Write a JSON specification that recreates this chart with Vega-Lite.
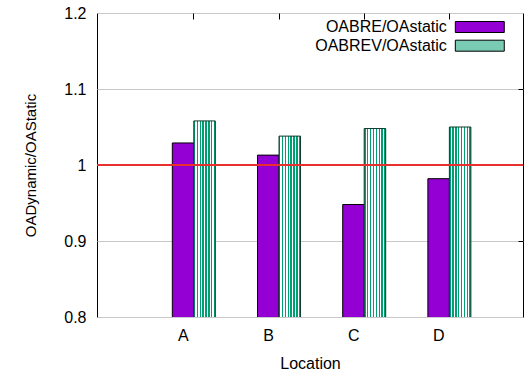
{
  "$schema": "https://vega.github.io/schema/vega-lite/v6.json",
  "width": 426,
  "height": 304,
  "autosize": {"type": "none"},
  "padding": {"left": 97, "top": 13, "right": 3, "bottom": 58},
  "config": {
    "font": "Liberation Sans",
    "view": {"stroke": "black", "strokeWidth": 1},
    "axis": {
      "labelFont": "Liberation Sans",
      "titleFont": "Liberation Sans",
      "labelFontSize": 16,
      "titleFontSize": 16,
      "labelColor": "black",
      "titleColor": "black",
      "titleFontWeight": "normal",
      "domain": false
    }
  },
  "data": {
    "values": [
      {"loc": "A", "series": "BRE", "value": 1.029},
      {"loc": "A", "series": "BREV", "value": 1.058},
      {"loc": "B", "series": "BRE", "value": 1.013},
      {"loc": "B", "series": "BREV", "value": 1.038},
      {"loc": "C", "series": "BRE", "value": 0.948},
      {"loc": "C", "series": "BREV", "value": 1.048},
      {"loc": "D", "series": "BRE", "value": 0.982},
      {"loc": "D", "series": "BREV", "value": 1.05}
    ]
  },
  "layer": [
    {
      "transform": [{"filter": "datum.series == 'BRE'"}],
      "mark": {"type": "bar", "stroke": "black", "strokeWidth": 1, "clip": true},
      "encoding": {
        "x": {
          "field": "loc", "type": "nominal",
          "scale": {"paddingInner": 0.4953, "paddingOuter": 0.748, "align": 0.591},
          "axis": {"orient": "bottom", "title": "Location", "labelAngle": 0, "labelOffset": -10.5, "ticks": false, "labelPadding": 10, "titlePadding": 12}
        },
        "xOffset": {"field": "series", "type": "nominal", "scale": {"domain": ["BRE", "BREV"], "paddingInner": 0, "paddingOuter": 0}},
        "y": {
          "field": "value", "type": "quantitative",
          "scale": {"domain": [0.8, 1.2], "zero": false, "nice": false},
          "axis": {"values": [0.8, 0.9, 1.0, 1.1, 1.2], "title": "OADynamic/OAStatic", "titleFontSize": 15, "grid": true, "gridColor": "#c8c8c8", "ticks": false, "labelPadding": 11, "labelExpr": "datum.value == 1 ? '1' : format(datum.value, '.1f')", "titlePadding": 25}
        },
        "color": {
          "field": "series", "type": "nominal",
          "scale": {"domain": ["BRE", "BREV"], "range": ["#9400d3", "#7acbb4"]},
          "legend": {
            "orient": "none", "legendX": 374.8, "legendY": 6, "padding": 0,
            "title": null,
            "symbolType": "M-4.45,-1H4.45V1H-4.45Z",
            "symbolSize": 121,
            "symbolStrokeColor": "black",
            "symbolStrokeWidth": 1,
            "symbolOpacity": 1,
            "labelFontSize": 16,
            "labelColor": "black",
            "labelAlign": "right",
            "labelOffset": -41,
            "rowPadding": 2.7,
            "labelExpr": "datum.value == 'BRE' ? 'OABRE/OAstatic' : 'OABREV/OAstatic'"
          }
        }
      }
    },
    {
      "transform": [{"filter": "datum.series == 'BREV'"}],
      "mark": {
        "type": "bar", "stroke": "#0b3d2c", "strokeWidth": 1, "clip": true,
        "fill": {
          "gradient": "linear", "x1": 0, "x2": 1, "y1": 0, "y2": 0,
          "stops": [
            {"offset": 0, "color": "#009e73"}, {"offset": 0.0667, "color": "#009e73"},
            {"offset": 0.0667, "color": "#ffffff"}, {"offset": 0.1333, "color": "#ffffff"},
            {"offset": 0.1333, "color": "#009e73"}, {"offset": 0.2, "color": "#009e73"},
            {"offset": 0.2, "color": "#ffffff"}, {"offset": 0.2667, "color": "#ffffff"},
            {"offset": 0.2667, "color": "#009e73"}, {"offset": 0.3333, "color": "#009e73"},
            {"offset": 0.3333, "color": "#ffffff"}, {"offset": 0.4, "color": "#ffffff"},
            {"offset": 0.4, "color": "#009e73"}, {"offset": 0.4667, "color": "#009e73"},
            {"offset": 0.4667, "color": "#ffffff"}, {"offset": 0.5333, "color": "#ffffff"},
            {"offset": 0.5333, "color": "#009e73"}, {"offset": 0.6, "color": "#009e73"},
            {"offset": 0.6, "color": "#ffffff"}, {"offset": 0.6667, "color": "#ffffff"},
            {"offset": 0.6667, "color": "#009e73"}, {"offset": 0.7333, "color": "#009e73"},
            {"offset": 0.7333, "color": "#ffffff"}, {"offset": 0.8, "color": "#ffffff"},
            {"offset": 0.8, "color": "#009e73"}, {"offset": 0.8667, "color": "#009e73"},
            {"offset": 0.8667, "color": "#ffffff"}, {"offset": 0.9333, "color": "#ffffff"},
            {"offset": 0.9333, "color": "#009e73"}, {"offset": 1, "color": "#009e73"}
          ]
        }
      },
      "encoding": {
        "x": {
          "field": "loc", "type": "nominal",
          "axis": {"orient": "top", "title": null, "labels": false, "ticks": true, "tickSize": -6, "tickColor": "black", "tickWidth": 1, "tickOpacity": 1, "tickBand": "center", "bandPosition": 0.377, "grid": false}
        },
        "xOffset": {"field": "series", "type": "nominal"},
        "y": {"field": "value", "type": "quantitative", "axis": null}
      }
    },
    {
      "mark": {"type": "rule", "color": "#e8302f", "strokeWidth": 1},
      "encoding": {
        "y": {
          "datum": 1, "type": "quantitative",
          "axis": {"orient": "right", "title": null, "labels": false, "ticks": true, "tickSize": -5, "tickColor": "black", "grid": false, "values": [0.9, 1.0, 1.1]}
        }
      }
    }
  ],
  "resolve": {"axis": {"x": "independent", "y": "independent"}}
}
